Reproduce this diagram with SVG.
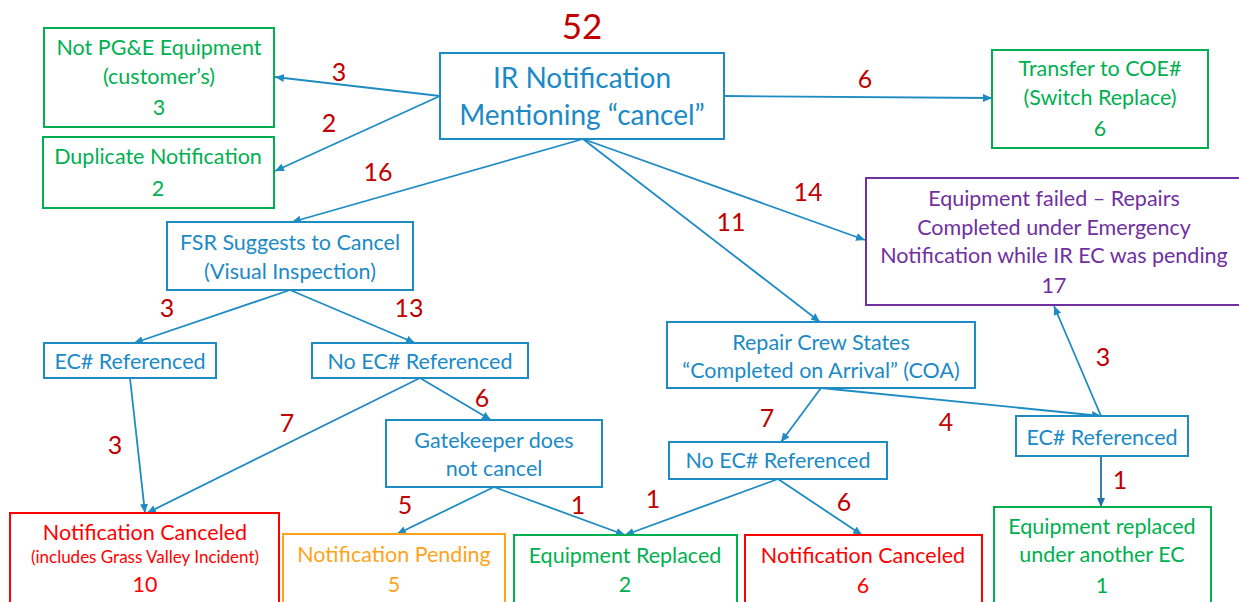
<svg xmlns="http://www.w3.org/2000/svg" width="1239" height="602" viewBox="0 0 1239 602">
<style>
text{font-family:Lato,"Liberation Sans",sans-serif;text-anchor:middle}
.box{fill:#fff;stroke-width:2}
.b{stroke:#1E8BC3}.g{stroke:#00B050}.r{stroke:#FF0000}.o{stroke:#FFA31A}.p{stroke:#7030A0}
.tb{fill:#1B8AC6;font-size:21.5px}.tg{fill:#00B050;font-size:21.5px}.tr{fill:#FF0000;font-size:21.5px}.to{fill:#FFA31A;font-size:21.5px}.tp{fill:#7030A0;font-size:21.5px}
.lbl{fill:#C00000;font-size:25px}
.c{stroke:#1E8BC3;stroke-width:1.8;fill:none;marker-end:url(#ah)}
.cd{stroke:#2470A8;stroke-width:1.8;fill:none;marker-end:url(#ahd)}
</style>
<defs>
<marker id="ah" markerUnits="userSpaceOnUse" markerWidth="9" markerHeight="8" refX="9" refY="4" orient="auto"><path d="M0,0 L9,4 L0,8 z" fill="#1E8BC3"/></marker>
<marker id="ahd" markerUnits="userSpaceOnUse" markerWidth="9" markerHeight="8" refX="9" refY="4" orient="auto"><path d="M0,0 L9,4 L0,8 z" fill="#2470A8"/></marker>
</defs>
<rect width="1239" height="602" fill="#fff"/>
<g id="connectors">
<path class="c" d="M440,96 L275,77"/>
<path class="c" d="M440,96 L275,171"/>
<path class="c" d="M583,139 L292,222"/>
<path class="c" d="M583,139 L820,322"/>
<path class="c" d="M583,139 L865,240"/>
<path class="c" d="M724,96 L992,98"/>
<path class="c" d="M290,290 L134,343"/>
<path class="c" d="M290,290 L415,343"/>
<path class="c" d="M130,378 L145,513"/>
<path class="c" d="M420,378 L147,513"/>
<path class="c" d="M420,378 L491,420"/>
<path class="c" d="M494,487 L397,534"/>
<path class="c" d="M494,487 L625,535"/>
<path class="c" d="M778,479 L625,535"/>
<path class="c" d="M778,479 L862,535"/>
<path class="c" d="M821,388 L781,442"/>
<path class="c" d="M821,388 L1101,416"/>
<path class="c" d="M1101,416 L1054,306"/>
<path class="cd" d="M1101,456 L1101,507"/>
<g id="labels">
<text class="lbl" x="339" y="81">3</text>
<text class="lbl" x="329" y="132">2</text>
<text class="lbl" x="378" y="181">16</text>
<text class="lbl" x="865" y="88">6</text>
<text class="lbl" x="808" y="201">14</text>
<text class="lbl" x="731" y="231">11</text>
<text class="lbl" x="167" y="317">3</text>
<text class="lbl" x="409" y="317">13</text>
<text class="lbl" x="115" y="454">3</text>
<text class="lbl" x="287" y="432">7</text>
<text class="lbl" x="482" y="407">6</text>
<text class="lbl" x="405" y="514">5</text>
<text class="lbl" x="578" y="514">1</text>
<text class="lbl" x="767" y="427">7</text>
<text class="lbl" x="946" y="431">4</text>
<text class="lbl" x="1103" y="366">3</text>
<text class="lbl" x="1120" y="489">1</text>
<text class="lbl" x="653" y="508">1</text>
<text class="lbl" x="844" y="511">6</text>
</g>
</g>
<g id="total"><text x="582" y="39" style="fill:#C00000;font-size:35px">52</text></g>
<g id="ir">
<rect class="box b" x="440" y="53" width="284" height="86"/>
<text class="tb" x="582" y="88" style="font-size:28px">IR Notification</text>
<text class="tb" x="582" y="125" style="font-size:28px">Mentioning “cancel”</text>
</g>
<g id="notpge">
<rect class="box g" x="44" y="28" width="230" height="99"/>
<text class="tg" x="159" y="55">Not PG&amp;E Equipment</text>
<text class="tg" x="159" y="84">(customer’s)</text>
<text class="tg" x="159" y="115">3</text>
</g>
<g id="duplicate">
<rect class="box g" x="43" y="137" width="231" height="71"/>
<text class="tg" x="158" y="164">Duplicate Notification</text>
<text class="tg" x="158" y="196">2</text>
</g>
<g id="transfer">
<rect class="box g" x="992" y="50" width="216" height="98"/>
<text class="tg" x="1100" y="76">Transfer to COE#</text>
<text class="tg" x="1100" y="105">(Switch Replace)</text>
<text class="tg" x="1100" y="136">6</text>
</g>
<g id="failed">
<rect class="box p" x="866" y="178" width="380" height="127"/>
<text class="tp" x="1054" y="206">Equipment failed – Repairs</text>
<text class="tp" x="1054" y="235">Completed under Emergency</text>
<text class="tp" x="1054" y="263">Notification while IR EC was pending</text>
<text class="tp" x="1054" y="293">17</text>
</g>
<g id="fsr">
<rect class="box b" x="167" y="222" width="246" height="68"/>
<text class="tb" x="290" y="250">FSR Suggests to Cancel</text>
<text class="tb" x="290" y="279">(Visual Inspection)</text>
</g>
<g id="ecref1">
<rect class="box b" x="44" y="343" width="172" height="35"/>
<text class="tb" x="130" y="369">EC# Referenced</text>
</g>
<g id="noecref1">
<rect class="box b" x="312" y="343" width="216" height="35"/>
<text class="tb" x="420" y="369">No EC# Referenced</text>
</g>
<g id="gatekeeper">
<rect class="box b" x="386" y="420" width="216" height="67"/>
<text class="tb" x="494" y="448">Gatekeeper does</text>
<text class="tb" x="494" y="476">not cancel</text>
</g>
<g id="repaircrew">
<rect class="box b" x="667" y="322" width="308" height="66"/>
<text class="tb" x="821" y="350">Repair Crew States</text>
<text class="tb" x="821" y="378">“Completed on Arrival” (COA)</text>
</g>
<g id="noecref2">
<rect class="box b" x="669" y="442" width="218" height="37"/>
<text class="tb" x="778" y="468">No EC# Referenced</text>
</g>
<g id="ecref2">
<rect class="box b" x="1016" y="416" width="172" height="40"/>
<text class="tb" x="1102" y="445">EC# Referenced</text>
</g>
<g id="canceled1">
<rect class="box r" x="10" y="513" width="269" height="100"/>
<text class="tr" x="145" y="540">Notification Canceled</text>
<text class="tr" x="145" y="563" style="font-size:17px">(includes Grass Valley Incident)</text>
<text class="tr" x="145" y="592">10</text>
</g>
<g id="pending">
<rect class="box o" x="283" y="534" width="222" height="80"/>
<text class="to" x="394" y="562">Notification Pending</text>
<text class="to" x="394" y="592">5</text>
</g>
<g id="replaced">
<rect class="box g" x="514" y="535" width="223" height="80"/>
<text class="tg" x="625" y="563">Equipment Replaced</text>
<text class="tg" x="625" y="592">2</text>
</g>
<g id="canceled2">
<rect class="box r" x="745" y="535" width="237" height="80"/>
<text class="tr" x="863" y="563">Notification Canceled</text>
<text class="tr" x="863" y="593">6</text>
</g>
<g id="replacedother">
<rect class="box g" x="994" y="507" width="217" height="110"/>
<text class="tg" x="1102" y="534">Equipment replaced</text>
<text class="tg" x="1102" y="562">under another EC</text>
<text class="tg" x="1102" y="593">1</text>
</g>
</svg>
